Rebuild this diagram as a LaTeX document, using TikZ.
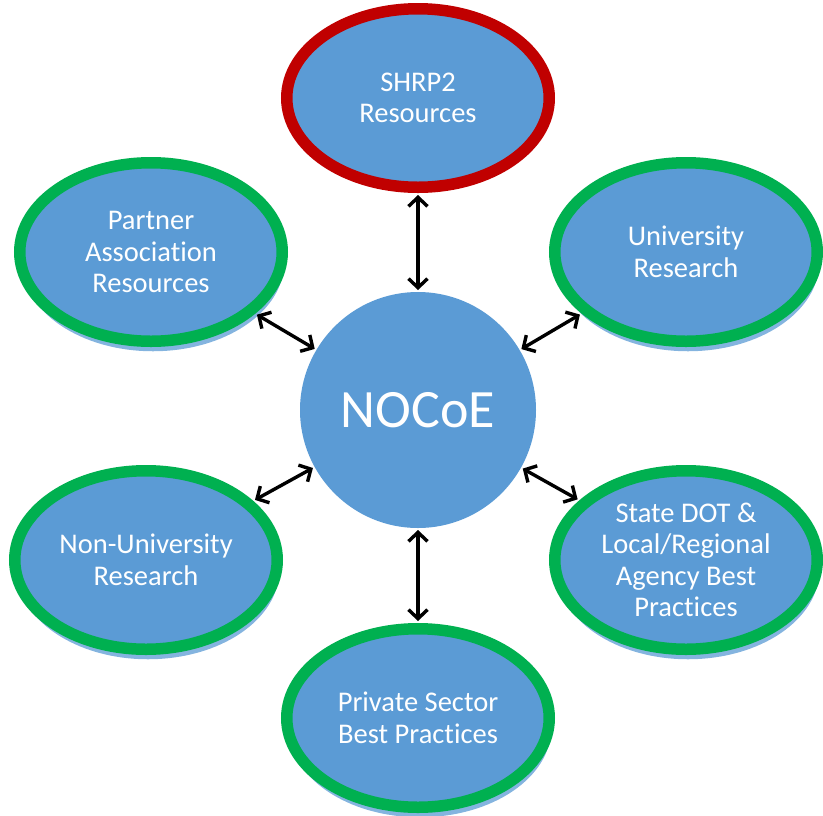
\documentclass[tikz,border=0pt]{standalone}
\usepackage{fontspec}
\setmainfont[Ligatures=CommonOff]{Carlito}
\usetikzlibrary{shapes.geometric,arrows.meta,shadows}
\definecolor{nodeblue}{HTML}{5B9BD5}
\definecolor{ringgreen}{HTML}{00B050}
\definecolor{ringred}{HTML}{C00000}
\begin{document}
\begin{tikzpicture}[x=1pt,y=-1pt,
  topic/.style={ellipse, fill=nodeblue, line width=11.5pt, minimum width=262.5pt, minimum height=178.5pt,
    inner sep=0pt, align=center, text=white, font=\fontsize{28.5}{31.5}\selectfont},
  greenring/.style={topic, draw=ringgreen,
    general shadow={fill=nodeblue!75, shadow yshift=-10pt, shadow xshift=2pt}},
  redring/.style={topic, draw=ringred},
  hub/.style={circle, fill=nodeblue, minimum size=236pt, inner sep=0pt, outer sep=0pt,
    text=white, font=\fontsize{54}{60}\selectfont},
  link/.style={{Straight Barb[length=9pt,width=19pt]}-{Straight Barb[length=9pt,width=19pt]},
    line width=3.4pt, black, shorten <=2pt, shorten >=2pt}
]
\useasboundingbox (0,0) rectangle (823,815);
\node[hub] (c) at (418,410) {NOCoE};
\node[redring] (shrp) at (418,98) {SHRP2\\Resources};
\node[greenring] (partner) at (151,252) {Partner\\Association\\Resources};
\node[greenring] (univ) at (686,252) {University\\Research};
\node[greenring] (nonuniv) at (146,560) {Non-University\\Research};
\node[greenring] (state) at (686,560) {State DOT \&\\Local/Regional\\Agency Best\\Practices};
\node[greenring] (private) at (418,718) {Private Sector\\Best Practices};
\draw[link] (shrp) -- (c);
\draw[link] (partner) -- (c);
\draw[link] (univ) -- (c);
\draw[link] (nonuniv) -- (c);
\draw[link] (state) -- (c);
\draw[link] (private) -- (c);
\end{tikzpicture}
\end{document}
